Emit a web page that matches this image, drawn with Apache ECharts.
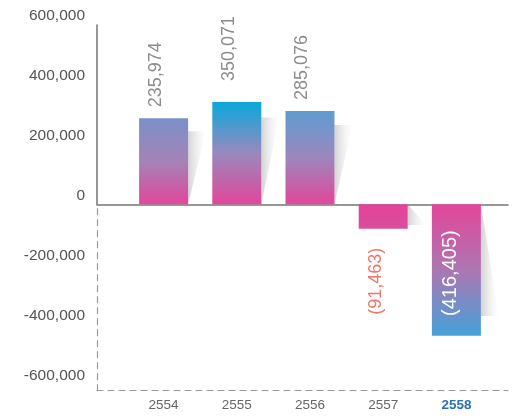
<!DOCTYPE html>
<html>
<head>
<meta charset="utf-8">
<script src="https://cdn.jsdelivr.net/npm/echarts@6/dist/echarts.min.js"></script>
<style>
  html, body { margin: 0; padding: 0; background: #fff; }
  #chart { width: 512px; height: 416px; }
</style>
</head>
<body>
<div id="chart"></div>
<script>
// data
const years = ['2554', '2555', '2556', '2557', '2558'];
const barValues = [277000, 329000, 300000, -78500, -423000];
const valueLabels = ['235,974', '350,071', '285,076', '(91,463)', '(416,405)'];
const yMin = -600000;
const yMax = 600000;
const yStep = 200000;

// styling per bar (far end colour, middle colour)
const farColors = ['#7a90c8', '#08a8dc', '#5e9cd1', '#d8509c', '#44a2d8'];
const midColors = ['#a483b8', '#9a88bd', '#9c87bc', '#e0469a', '#ad76b2'];
const baseColor = '#e2469a';
const labelGap = [11, 21, 11, 19, 26];
const labelShift = [-8, -8, -8, -7, -6];

const chart = echarts.init(document.getElementById('chart'));

const barData = barValues.map((v, i) => {
  const pos = v >= 0;
  const stops = pos
    ? [{ offset: 0, color: farColors[i] }, { offset: 0.5, color: midColors[i] }, { offset: 1, color: baseColor }]
    : [{ offset: 0, color: baseColor }, { offset: 0.5, color: midColors[i] }, { offset: 1, color: farColors[i] }];
  let label;
  if (pos) {
    label = { position: 'top', align: 'left', color: '#8c8c8c', fontSize: 18 };
  } else if (i === 4) {
    label = { position: 'insideTop', align: 'right', color: '#ffffff', fontSize: 20 };
  } else {
    label = { position: 'bottom', align: 'right', color: '#f07763', fontSize: 18 };
  }
  label.distance = labelGap[i];
  // offset is in the rotated frame: local y maps to screen x
  label.offset = [0, labelShift[i]];
  return {
    value: v,
    itemStyle: { color: new echarts.graphic.LinearGradient(0, 0, 0, 1, stops) },
    label: label
  };
});

const lineStyleSolid = { color: '#747474', width: 1.5 };
const lineStyleDash = { color: '#9a9a9a', width: 1.2, type: [6, 5] };

const option = {
  animation: false,
  textStyle: { fontFamily: 'Liberation Sans, Arial, sans-serif' },
  grid: [
    { left: 97, right: 4, top: 16, height: 360 },      // tick labels
    { left: 127, right: 19, top: 17.9, height: 372.8 }, // bars
    { left: 97, right: 4, top: 25, height: 179.3 },     // solid frame above zero
    { left: 97, right: 4, top: 204.3, height: 186.4 }   // dashed frame below zero
  ],
  xAxis: [
    { gridIndex: 0, type: 'value', show: false },
    {
      gridIndex: 1,
      type: 'category',
      data: years.map((y, i) => i === years.length - 1
        ? { value: y, textStyle: { color: '#2b70b4', fontWeight: 'bold' } }
        : y),
      axisLine: { show: false },
      axisTick: { show: false },
      axisLabel: { color: '#666', fontSize: 13.5, margin: 8 }
    },
    {
      gridIndex: 2, type: 'value', min: 0, max: 1, position: 'bottom',
      axisLine: { show: true, onZero: false, lineStyle: lineStyleSolid },
      axisTick: { show: false }, axisLabel: { show: false }, splitLine: { show: false }
    },
    {
      gridIndex: 3, type: 'value', min: 0, max: 1, position: 'bottom',
      axisLine: { show: true, onZero: false, lineStyle: lineStyleDash },
      axisTick: { show: false }, axisLabel: { show: false }, splitLine: { show: false }
    }
  ],
  yAxis: [
    {
      gridIndex: 0, type: 'value', min: yMin, max: yMax, interval: yStep,
      axisLine: { show: false }, axisTick: { show: false }, splitLine: { show: false },
      axisLabel: {
        color: '#555', fontSize: 15.5, margin: 12,
        formatter: v => v.toLocaleString('en-US')
      }
    },
    {
      gridIndex: 1, type: 'value', min: yMin, max: yMax, interval: yStep,
      show: false
    },
    {
      gridIndex: 2, type: 'value', min: 0, max: 1,
      axisLine: { show: true, onZero: false, lineStyle: lineStyleSolid },
      axisTick: { show: false }, axisLabel: { show: false }, splitLine: { show: false }
    },
    {
      gridIndex: 3, type: 'value', min: 0, max: 1,
      axisLine: { show: true, onZero: false, lineStyle: lineStyleDash },
      axisTick: { show: false }, axisLabel: { show: false }, splitLine: { show: false }
    }
  ],
  series: [
    {
      // soft slanted shadow to the right of every bar
      type: 'custom',
      xAxisIndex: 1,
      yAxisIndex: 1,
      z: 1,
      silent: true,
      data: barValues.map((v, i) => [i, v]),
      renderItem: (params, api) => {
        const c0 = api.coord([api.value(0), 0]);
        const c1 = api.coord([api.value(0), api.value(1) * 0.85]);
        const right = c0[0] + 24.5;
        return {
          type: 'polygon',
          shape: { points: [[right, c0[1]], [right, c1[1]], [right + 18, c1[1]]] },
          style: {
            fill: new echarts.graphic.LinearGradient(0, 0, 1, 0, [
              { offset: 0, color: 'rgba(110,110,110,0.3)' },
              { offset: 1, color: 'rgba(200,200,200,0)' }
            ])
          }
        };
      }
    },
    {
      type: 'bar',
      xAxisIndex: 1,
      yAxisIndex: 1,
      z: 3,
      barWidth: 49,
      data: barData,
      label: {
        show: true,
        rotate: 90,
        verticalAlign: 'middle',
        formatter: p => valueLabels[p.dataIndex]
      }
    }
  ]
};

chart.setOption(option);
</script>
</body>
</html>
